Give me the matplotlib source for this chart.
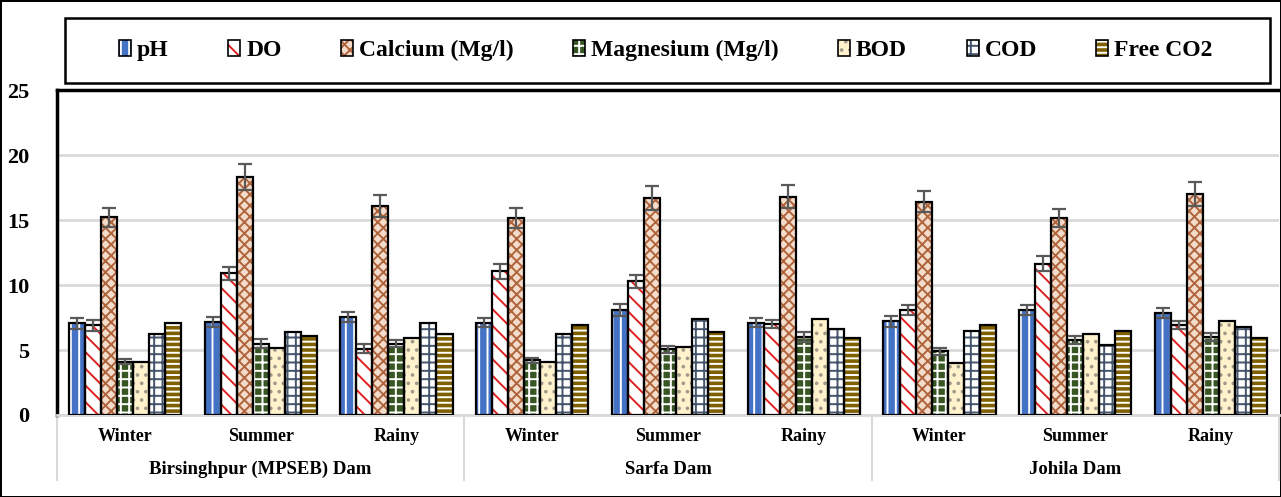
import numpy as np
import matplotlib
matplotlib.use("Agg")
import matplotlib.pyplot as plt
from matplotlib.patches import Patch, Rectangle
from matplotlib.lines import Line2D

plt.rcParams['font.family'] = ['Liberation Serif', 'DejaVu Serif']
plt.rcParams['font.weight'] = 'bold'
plt.rcParams['hatch.linewidth'] = 1.4

seasons = ["Winter", "Summer", "Rainy"] * 3
dams = ["Birsinghpur (MPSEB) Dam", "Sarfa Dam", "Johila Dam"]
params = ["pH", "DO", "Calcium (Mg/l)", "Magnesium (Mg/l)", "BOD", "COD", "Free CO2"]

ph = [7.05, 7.15, 7.55, 7.1, 8.1, 7.1, 7.2, 8.1, 7.85]
do = [6.9, 10.9, 5.1, 11.05, 10.3, 7.0, 8.1, 11.65, 6.9]
calcium = [15.2, 18.3, 16.1, 15.15, 16.7, 16.8, 16.4, 15.15, 17.0]
magnesium = [4.1, 5.5, 5.5, 4.2, 5.05, 6.0, 4.9, 5.75, 6.0]
bod = [4.1, 5.15, 5.9, 4.1, 5.2, 7.4, 4.0, 6.2, 7.25]
cod = [6.2, 6.35, 7.1, 6.25, 7.35, 6.6, 6.45, 5.4, 6.75]
free_co2 = [7.05, 6.1, 6.2, 6.95, 6.35, 5.95, 6.95, 6.45, 5.9]

ph_err = [0.4, 0.4, 0.4, 0.35, 0.45, 0.35, 0.45, 0.4, 0.4]
do_err = [0.4, 0.5, 0.35, 0.6, 0.5, 0.3, 0.4, 0.6, 0.3]
calcium_err = [0.7, 1.0, 0.85, 0.8, 0.95, 0.9, 0.8, 0.7, 0.9]
magnesium_err = [0.2, 0.35, 0.3, 0.2, 0.25, 0.35, 0.25, 0.3, 0.3]

series = [ph, do, calcium, magnesium, bod, cod, free_co2]
errors = [ph_err, do_err, calcium_err, magnesium_err, None, None, None]

# (face colour, hatch colour, hatch)
styles = [
    ("#4472c4", "white", "||"),
    ("white", "#e02020", "\\\\"),
    ("#f3dccb", "#b0643c", "xxx"),
    ("#375623", "white", "++"),
    ("#fff2cc", "#a09a8a", ".."),
    ("white", "#44546a", "++"),
    ("#7f6000", "white", "---"),
]

fig = plt.figure(figsize=(12.81, 4.97), dpi=100)
fig.patch.set_edgecolor("black")
fig.patch.set_linewidth(1.0)
ax = fig.add_axes([57 / 1281, 1 - 415 / 497, 1222 / 1281, 325 / 497])

x = np.arange(len(seasons))
w = 0.118
for i, vals in enumerate(series):
    fc, hc, hatch = styles[i]
    pos = x + (i - 3) * w
    ax.bar(pos, vals, w, color=fc, edgecolor=hc, hatch=hatch, linewidth=0, zorder=2)
    ax.bar(pos, vals, w, fill=False, edgecolor="black", linewidth=1.6, zorder=3)
    if errors[i] is not None:
        ax.errorbar(pos, vals, yerr=errors[i], fmt="none", ecolor="#595959",
                    elinewidth=1.6, capsize=5, capthick=1.6, zorder=4)

ax.set_ylim(0, 25)
ax.set_xlim(-0.5, 8.5)
ax.set_yticks([0, 5, 10, 15, 20, 25])
ax.tick_params(axis="y", length=0, pad=20, labelsize=16)
ax.set_xticks([])
ax.yaxis.grid(True, color="#d9d9d9", linewidth=2)
ax.set_axisbelow(True)
for side in ["left", "top"]:
    ax.spines[side].set_linewidth(2.5)
    ax.spines[side].set_color("black")
ax.spines["right"].set_visible(False)
ax.spines["bottom"].set_color("#d9d9d9")
ax.spines["bottom"].set_linewidth(2)

trans = ax.get_xaxis_transform()
for xi, s in zip(x, seasons):
    ax.text(xi, -0.065, s, transform=trans, ha="center", va="center", fontsize=13)
for j, d in enumerate(dams):
    ax.text(3 * j + 1, -0.168, d, transform=trans, ha="center", va="center", fontsize=13.5)
for b in [-0.5, 2.5, 5.5, 8.5]:
    ax.add_line(Line2D([b, b], [0, -0.2], transform=trans, color="#d9d9d9",
                       linewidth=1.5, clip_on=False))

handles = []
for fc, hc, hatch in styles:
    handles.append((Patch(facecolor=fc, edgecolor=hc, hatch=hatch, linewidth=0),
                    Patch(fill=False, edgecolor="black", linewidth=1.2)))
fig.legend(handles, params, loc="center", ncol=7, mode="expand", frameon=False,
           bbox_to_anchor=(110 / 1281, 1 - 83 / 497, 1112 / 1281, 65 / 497),
           fontsize=17, handlelength=0.5, handleheight=0.65, handletextpad=0.25,
           borderaxespad=0)
fig.add_artist(Rectangle((65 / 1281, 1 - 83 / 497), 1205 / 1281, 65 / 497,
                         transform=fig.transFigure, fill=False,
                         edgecolor="black", linewidth=1.8))

fig.savefig("out.png", dpi=100)
